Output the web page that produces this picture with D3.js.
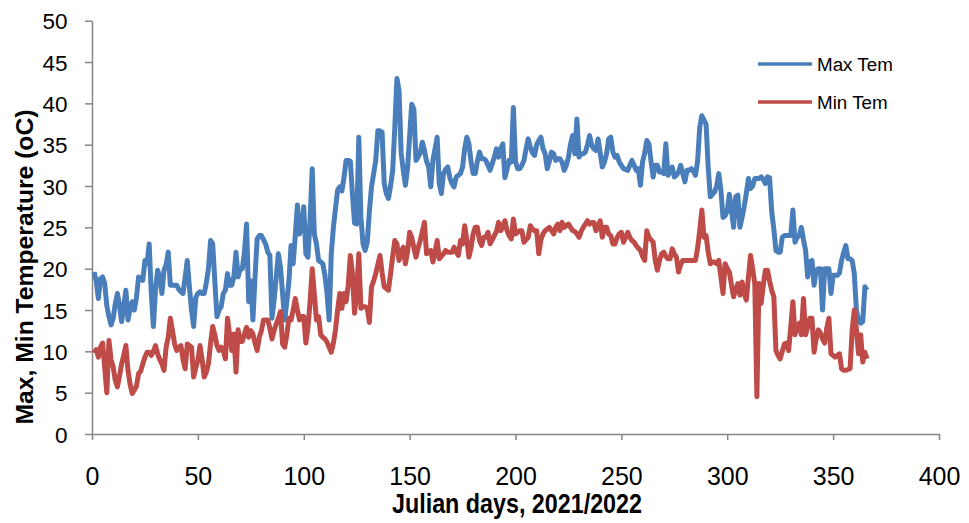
<!DOCTYPE html>
<html><head><meta charset="utf-8">
<script src="https://cdn.jsdelivr.net/npm/d3@7"></script>
<style>
html,body{margin:0;padding:0;background:#fff;}
svg{display:block;}
</style></head>
<body>
<svg id="chart" width="969" height="523"></svg>
<script>
const startDay = 1;
const maxTemp = [
19.6,18.5,16.4,18.8,19.0,18.2,15.5,14.2,13.2,14.0,
15.8,17.0,15.5,13.6,15.5,17.4,13.8,15.2,16.0,15.0,
16.5,19.0,18.8,18.6,21.0,20.6,23.0,17.0,13.0,17.5,
19.8,19.0,17.0,19.8,20.5,22.0,18.0,18.0,18.0,18.0,
17.5,17.2,17.0,19.0,21.0,17.8,15.0,13.0,16.5,17.0,
17.2,17.0,17.0,18.3,20.0,23.4,23.0,18.5,14.2,15.0,
15.4,17.0,17.4,19.4,18.0,18.0,19.0,22.0,19.0,20.0,
20.0,22.0,25.4,16.0,18.5,13.8,19.0,23.6,24.0,24.0,
23.5,23.0,22.0,21.6,14.0,16.2,19.0,21.8,20.2,17.0,
13.8,16.0,18.5,22.8,20.6,24.0,27.7,24.2,25.0,27.5,
21.8,21.4,26.0,32.1,24.2,23.0,21.0,20.8,20.6,19.2,
17.0,13.8,21.8,25.0,27.3,29.5,29.9,29.4,31.0,33.1,
33.1,33.0,29.0,25.5,25.4,35.9,26.2,23.0,22.2,23.2,
27.0,29.9,31.5,33.1,36.7,36.7,36.5,30.3,29.1,28.5,
30.0,31.9,37.1,43.0,41.6,34.0,31.9,30.1,32.1,36.0,
39.9,39.3,33.1,33.5,34.0,35.3,34.3,33.0,32.3,29.9,
33.1,34.5,35.9,30.3,29.1,31.5,32.0,32.3,31.0,30.3,
29.9,31.1,31.3,31.5,32.3,34.5,35.9,35.1,33.0,31.5,
31.5,33.0,34.1,33.3,33.3,33.1,32.5,31.9,32.7,33.5,
34.5,33.5,34.5,35.1,31.0,32.0,33.1,32.9,39.5,33.0,
32.1,32.1,32.5,33.1,34.5,35.7,34.7,34.0,33.7,35.0,
35.5,35.9,34.5,33.9,32.1,33.0,34.1,33.9,33.1,33.3,
33.3,32.9,31.9,32.5,33.5,35.1,36.1,33.9,38.1,33.5,
33.9,33.9,34.1,35.0,36.1,34.9,34.5,34.3,35.7,34.0,
32.3,32.9,33.9,35.7,35.9,34.1,33.5,33.7,32.9,32.5,
32.1,32.0,31.9,32.5,33.1,32.5,31.9,32.1,30.1,32.9,
34.0,35.5,35.1,33.0,31.1,32.5,32.5,31.7,31.7,31.5,
35.1,31.3,31.8,32.3,31.1,31.3,31.7,32.5,31.5,30.5,
31.9,31.9,32.1,31.8,31.3,33.0,37.1,38.5,38.0,37.5,
32.3,28.7,29.0,29.3,30.0,31.5,29.5,26.2,26.4,27.0,
29.0,27.0,25.0,28.7,28.9,25.0,26.2,27.5,29.1,30.9,
29.7,30.0,30.9,30.9,30.9,31.1,30.8,30.3,31.1,31.0,
26.9,24.8,22.2,22.0,22.0,23.8,24.0,24.0,24.0,24.0,
27.1,23.2,23.8,24.0,25.0,23.5,22.2,19.0,20.8,21.0,
18.0,19.8,20.0,20.0,15.0,20.0,20.0,20.0,17.0,19.2,
19.2,19.2,19.5,21.0,22.0,22.8,21.2,21.2,21.0,19.4,
15.0,13.8,13.4,13.6,17.8,17.4
];
const minTemp = [
9.8,10.2,9.3,10.5,11.0,8.0,5.0,11.3,9.0,8.1,
6.5,5.7,7.0,8.5,9.5,10.7,7.7,6.0,4.9,5.3,
5.8,7.3,7.6,8.5,9.3,9.9,9.9,9.5,10.0,10.7,
9.7,9.0,8.5,7.7,10.5,11.7,14.0,12.5,10.9,10.1,
10.5,10.7,9.0,7.9,10.9,10.7,10.5,6.9,8.0,8.9,
10.7,9.0,6.9,7.5,8.5,11.0,13.0,12.0,10.7,10.1,
10.5,10.1,9.1,14.0,12.0,10.1,12.1,7.5,12.6,11.2,
11.2,12.1,12.9,11.7,12.5,12.1,11.0,10.1,11.7,12.5,
13.8,13.8,13.8,12.8,11.5,12.5,13.3,14.0,14.8,10.9,
10.5,12.0,14.0,13.8,15.0,16.4,15.0,13.8,14.2,14.2,
11.0,12.9,16.0,20.0,16.9,13.8,14.2,12.0,11.7,11.5,
11.1,10.5,9.9,11.0,12.6,15.0,17.0,15.2,17.0,16.0,
18.0,21.6,19.4,14.6,17.0,21.8,15.2,15.4,15.4,15.2,
13.5,17.8,18.5,19.4,20.5,21.6,19.5,17.8,17.6,17.4,
19.4,21.5,23.4,23.0,21.0,22.0,22.6,20.6,22.0,24.4,
23.8,22.5,21.4,22.5,23.4,24.5,25.6,21.8,22.0,22.2,
20.8,22.0,23.4,21.2,21.5,21.8,22.2,22.0,22.0,22.0,
22.6,22.0,21.6,23.4,23.0,25.2,23.5,21.4,22.5,24.2,
25.0,25.0,23.4,22.8,23.8,23.8,24.4,23.0,23.5,24.0,
24.5,25.6,24.6,25.0,25.8,24.6,24.0,23.6,26.0,24.2,
24.4,24.6,24.6,23.2,23.5,23.8,25.2,24.8,24.6,24.6,
21.8,23.5,24.2,24.6,24.8,25.0,24.6,24.2,25.0,25.4,
24.6,25.6,25.0,25.2,25.4,25.0,24.6,24.5,24.2,23.8,
24.5,25.0,25.4,25.8,25.4,25.6,25.6,24.6,25.2,25.8,
23.8,25.0,25.0,24.2,24.0,23.0,23.0,23.8,24.2,24.4,
23.2,23.8,24.4,23.8,23.4,23.2,22.8,22.5,22.2,21.5,
21.0,24.6,23.8,23.5,23.2,21.0,19.8,21.0,21.8,22.0,
21.5,21.2,21.2,22.4,21.8,21.4,19.6,20.5,21.0,21.0,
21.0,21.0,21.0,21.0,21.0,22.5,24.6,27.1,23.8,24.0,
22.0,20.6,20.8,20.8,20.6,21.0,19.0,17.0,20.6,20.0,
19.6,18.0,16.6,17.5,18.2,16.8,18.4,17.0,16.2,19.0,
21.6,20.0,18.2,4.5,18.2,15.8,18.0,19.8,19.8,18.5,
17.4,16.6,10.1,9.5,9.1,10.0,10.9,11.0,10.1,13.0,
16.0,12.0,13.0,13.4,12.0,16.4,12.0,13.0,14.0,14.0,
9.9,11.5,12.6,12.2,11.5,11.0,12.8,14.0,9.7,9.5,
9.3,9.5,9.7,7.9,7.7,7.7,7.8,7.9,12.6,15.0,
12.6,9.7,12.0,8.7,9.9,9.1
];
const xTicks = [0,50,100,150,200,250,300,350,400];
const yTicks = [0,5,10,15,20,25,30,35,40,45,50];
const seriesNames = ["Max Tem","Min Tem"];
const seriesColors = ["#4A7EBB","#BE4B48"];
const xTitle = "Julian days, 2021/2022";
const yTitle = "Max, Min Temperature (oC)";

const svg = d3.select("#chart");
const x = d3.scaleLinear().domain([0,400]).range([92,939]);
const y = d3.scaleLinear().domain([0,50]).range([434,20.7]);
const axisColor = "#868686";
const font = "'Liberation Sans', Arial, sans-serif";

// Y axis
const gy = svg.append("g").attr("transform","translate(92,0)")
  .call(d3.axisLeft(y).tickValues(yTicks).tickSize(7).tickSizeOuter(0).tickPadding(17.5));
gy.select(".domain").attr("stroke",axisColor).attr("stroke-width",1.5);
gy.selectAll(".tick line").attr("stroke",axisColor).attr("stroke-width",1.5);
gy.selectAll(".tick text").attr("font-family",font).attr("font-size","22.5px").attr("fill","#000").attr("dy","0.36em");

// X axis
const gx = svg.append("g").attr("transform","translate(0,434)")
  .call(d3.axisBottom(x).tickValues(xTicks).tickSize(6).tickSizeOuter(0));
gx.select(".domain").attr("stroke",axisColor).attr("stroke-width",1.5);
gx.selectAll(".tick line").attr("stroke",axisColor).attr("stroke-width",1.5);
gx.selectAll(".tick text").attr("font-family",font).attr("font-size","25px").attr("fill","#000")
  .attr("y",51).attr("dy",null);

// Titles
svg.append("text").attr("x",517).attr("y",513)
  .attr("text-anchor","middle").attr("font-family","'Liberation Sans Narrow','Arial Narrow','Liberation Sans',Arial,sans-serif")
  .attr("font-weight","bold").attr("font-size","27px")
  .attr("textLength",250).attr("lengthAdjust","spacingAndGlyphs")
  .text(xTitle);
svg.append("text").attr("transform","translate(33,267) rotate(-90)")
  .attr("text-anchor","middle").attr("font-family",font)
  .attr("font-weight","bold").attr("font-size","24px")
  .attr("textLength",315).attr("lengthAdjust","spacingAndGlyphs")
  .text(yTitle);

// Lines
const line = d3.line().x((d,i)=>x(startDay+i)).y(d=>y(d));
[maxTemp,minTemp].forEach((s,k)=>{
  svg.append("path").datum(s).attr("d",line)
    .attr("fill","none").attr("stroke",seriesColors[k]).attr("stroke-width",5)
    .attr("stroke-linejoin","round");
});

// Legend
const legY = [64,102];
seriesNames.forEach((n,k)=>{
  svg.append("line").attr("x1",758).attr("x2",812).attr("y1",legY[k]).attr("y2",legY[k])
    .attr("stroke",seriesColors[k]).attr("stroke-width",3.5);
  svg.append("text").attr("x",817).attr("y",legY[k]+6.8)
    .attr("font-family",font).attr("font-size","18.8px").attr("fill","#000").text(n);
});
</script>
</body></html>
